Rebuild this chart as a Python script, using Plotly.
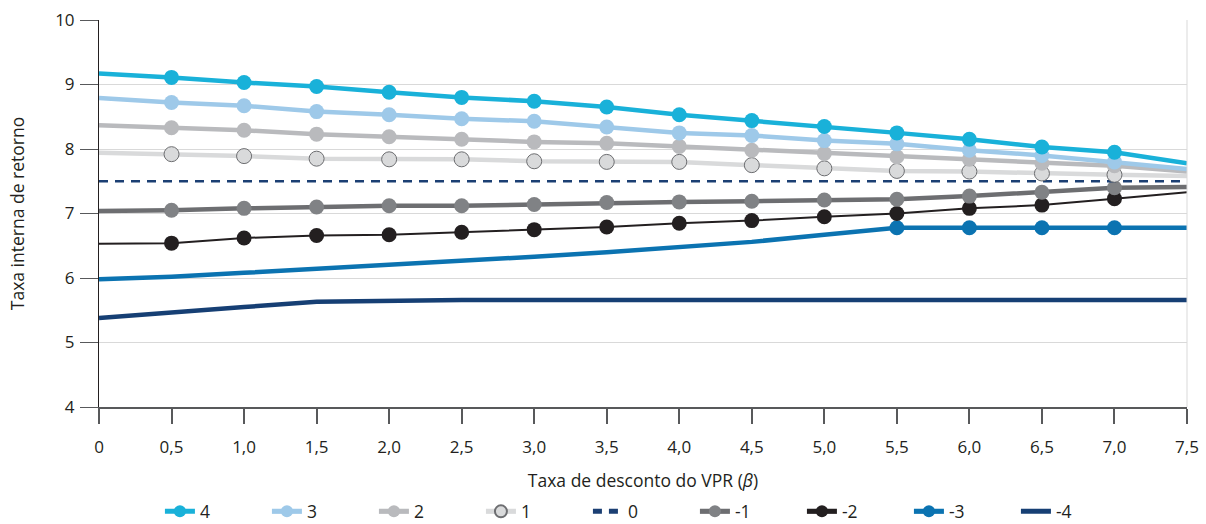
import plotly.graph_objects as go

x = [0, 0.5, 1.0, 1.5, 2.0, 2.5, 3.0, 3.5, 4.0, 4.5, 5.0, 5.5, 6.0, 6.5, 7.0, 7.5]
x_labels = ["0", "0,5", "1,0", "1,5", "2,0", "2,5", "3,0", "3,5", "4,0", "4,5",
            "5,0", "5,5", "6,0", "6,5", "7,0", "7,5"]

s4 = [9.17, 9.11, 9.03, 8.97, 8.88, 8.80, 8.74, 8.65, 8.53, 8.44, 8.35, 8.25, 8.15, 8.03, 7.95, 7.78]
s3 = [8.79, 8.72, 8.67, 8.58, 8.53, 8.47, 8.43, 8.34, 8.25, 8.21, 8.13, 8.08, 7.98, 7.90, 7.80, 7.69]
s2 = [8.37, 8.33, 8.29, 8.23, 8.19, 8.15, 8.11, 8.09, 8.04, 7.98, 7.93, 7.88, 7.84, 7.78, 7.74, 7.65]
s1 = [7.94, 7.92, 7.89, 7.85, 7.84, 7.84, 7.81, 7.80, 7.80, 7.75, 7.70, 7.66, 7.65, 7.62, 7.60, 7.58]
s0 = [7.50, 7.50, 7.50, 7.50, 7.50, 7.50, 7.50, 7.50, 7.50, 7.50, 7.50, 7.50, 7.50, 7.50, 7.50, 7.50]
sm1 = [7.04, 7.05, 7.08, 7.10, 7.12, 7.12, 7.14, 7.17, 7.18, 7.19, 7.21, 7.22, 7.27, 7.33, 7.40, 7.41]
sm2 = [6.53, 6.54, 6.62, 6.66, 6.67, 6.71, 6.75, 6.79, 6.85, 6.89, 6.95, 7.00, 7.08, 7.13, 7.23, 7.33]
sm3 = [5.98, 6.02, 6.08, 6.14, 6.20, 6.27, 6.33, 6.40, 6.48, 6.56, 6.67, 6.78, 6.78, 6.78, 6.78, 6.78]
sm4 = [5.38, 5.47, 5.55, 5.63, 5.65, 5.66, 5.66, 5.66, 5.66, 5.66, 5.66, 5.66, 5.66, 5.66, 5.66, 5.66]

names = ["4", "3", "2", "1", "0", "-1", "-2", "-3", "-4"]

MS = 15
inner = [0] + [MS] * 14 + [0]
late = [0] * 11 + [MS] * 4 + [0]
none = [0] * 16

specs = [
    # name, y, line color, width, dash, marker color, marker line color, sizes
    ("4", s4, "#19b1d9", 4.5, "solid", "#19b1d9", "#19b1d9", inner),
    ("3", s3, "#9ec9e9", 4.5, "solid", "#9ec9e9", "#9ec9e9", inner),
    ("2", s2, "#b9babd", 4.5, "solid", "#b9babd", "#b9babd", inner),
    ("1", s1, "#d9dadb", 4.5, "solid", "#d9dadb", "#6d6e71", inner),
    ("0", s0, "#1b3f73", 2.7, "9px,7px", "#1b3f73", "#1b3f73", none),
    ("-1", sm1, "#6d6e71", 4.5, "solid", "#808285", "#808285", inner),
    ("-2", sm2, "#231f20", 2, "solid", "#231f20", "#231f20", inner),
    ("-3", sm3, "#0b73b1", 4.5, "solid", "#0b73b1", "#0b73b1", late),
    ("-4", sm4, "#163f74", 4.5, "solid", "#163f74", "#163f74", none),
]

fig = go.Figure()
for name, y, lc, lw, dash, mc, mlc, sizes in reversed(specs):
    has_markers = any(s > 0 for s in sizes)
    fig.add_trace(go.Scatter(
        x=x, y=y, name=name,
        mode="lines+markers" if has_markers else "lines",
        line=dict(color=lc, width=lw, dash=dash),
        marker=dict(color=mc, size=sizes, opacity=1,
                    line=dict(color=mlc, width=1 if name == "1" else 0)),
    ))

fig.add_shape(type="line", xref="x domain", yref="y domain", x0=1, x1=1, y0=0, y1=1,
              line=dict(color="#d9d9d9", width=1))

font = "Open Sans, Noto Sans, sans-serif"
fig.update_layout(
    width=1206, height=524,
    margin=dict(l=99, r=19, t=20, b=117, autoexpand=False),
    paper_bgcolor="white", plot_bgcolor="white",
    font=dict(family=font, size=17, color="#231f20"),
    showlegend=True,
    legend=dict(orientation="h", x=0.056, xanchor="left", y=-0.27, yanchor="middle",
                traceorder="reversed", itemsizing="constant",
                entrywidth=62, entrywidthmode="pixels",
                font=dict(size=17.5), itemclick=False),
    xaxis=dict(range=[0, 7.5], tickmode="array", tickvals=x, ticktext=x_labels,
               showgrid=False, zeroline=False, showline=True, linecolor="#58595b",
               linewidth=1.5, ticks="outside", ticklen=15, tickcolor="#58595b",
               tickwidth=1.5, ticklabelstandoff=9, automargin=False,
               tickfont=dict(size=17),
               title=dict(text="Taxa de desconto do VPR (<i>β</i>)", standoff=18,
                          font=dict(size=17.5))),
    yaxis=dict(range=[4, 10], dtick=1, tick0=4, showgrid=True, gridcolor="#d9d9d9",
               gridwidth=1, zeroline=False, showline=True, linecolor="#231f20",
               linewidth=1, ticks="outside", ticklen=18, tickcolor="#58595b",
               ticklabelstandoff=2, automargin=False, tickfont=dict(size=17),
               title=dict(text="Taxa interna de retorno", standoff=26,
                          font=dict(size=17.5))),
)

fig.write_html("out.html", config={"displayModeBar": False},
               post_script="document.body.style.margin='0px';")
